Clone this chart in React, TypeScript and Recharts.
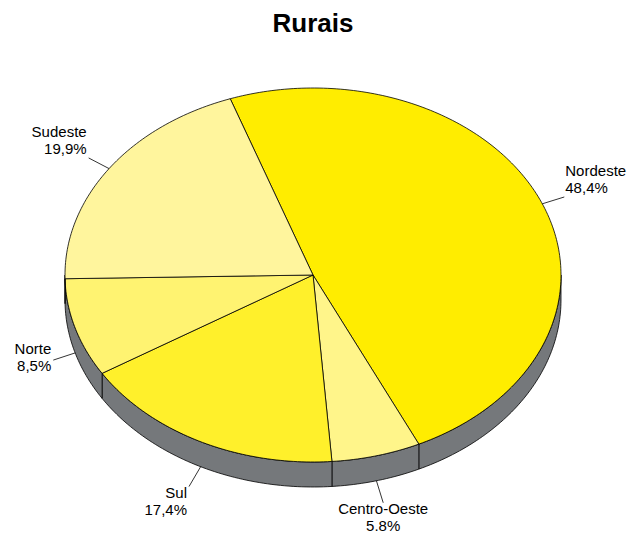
import { PieChart, Pie, Cell } from 'recharts';

const regions = ['Nordeste', 'Centro-Oeste', 'Sul', 'Norte', 'Sudeste'];
const shares = [48.4, 5.8, 17.4, 8.5, 19.9];
const shareLabels = ['48,4%', '5.8%', '17,4%', '8,5%', '19,9%'];
const colors = ['#FFED00', '#FFF58A', '#FFF02B', '#FFF371', '#FFF59D'];

const data = regions.map((name, i) => ({ name, value: shares[i], pct: shareLabels[i] }));

const RY_RATIO = 0.754;
const DEPTH = 25;
const SIDE = '#75787B';
const FONT = '"Liberation Sans", Arial, Helvetica, sans-serif';

const toXY = (cx: number, cy: number, rx: number, ry: number, deg: number) => {
  const r = (deg * Math.PI) / 180;
  return [cx + rx * Math.cos(r), cy - ry * Math.sin(r)];
};

const arcPoints = (cx: number, cy: number, rx: number, ry: number, a: number, b: number, dy = 0) => {
  // a -> b, sampled every degree or so
  const n = Math.max(2, Math.ceil(Math.abs(b - a)));
  const pts: string[] = [];
  for (let i = 0; i <= n; i++) {
    const [x, y] = toXY(cx, cy, rx, ry, a + ((b - a) * i) / n);
    pts.push(`${x.toFixed(2)},${(y + dy).toFixed(2)}`);
  }
  return pts;
};

function Slice3D(props: any) {
  const { cx, cy, outerRadius, startAngle, endAngle, fill } = props;
  const rx = outerRadius;
  const ry = rx * RY_RATIO;
  const lo = Math.min(startAngle, endAngle);
  const hi = Math.max(startAngle, endAngle);

  // side wall: only the front (lower) half of the ellipse is visible
  const sides: string[] = [];
  for (const [s0, s1] of [[-540, -360], [-180, 0], [180, 360]]) {
    const b1 = Math.max(lo, s0);
    const b2 = Math.min(hi, s1);
    if (b2 > b1) {
      const top = arcPoints(cx, cy, rx, ry, b1, b2);
      const bottom = arcPoints(cx, cy, rx, ry, b2, b1, DEPTH);
      sides.push(`M${top.join(' L')} L${bottom.join(' L')} Z`);
    }
  }

  const face = `M${cx},${cy} L${arcPoints(cx, cy, rx, ry, startAngle, endAngle).join(' L')} Z`;

  return (
    <g>
      {sides.map((d, i) => (
        <path key={i} d={d} fill={SIDE} stroke="#000" strokeWidth={0.8} strokeLinejoin="round" />
      ))}
      <path d={face} fill={fill} stroke="#000" strokeWidth={0.8} strokeLinejoin="round" />
    </g>
  );
}

function SliceLabel(props: any) {
  const { cx, cy, outerRadius, midAngle, index } = props;
  const rx = outerRadius;
  const ry = rx * RY_RATIO;
  const r = (midAngle * Math.PI) / 180;
  const cos = Math.cos(r);
  const sin = Math.sin(r);
  let [sx, sy] = toXY(cx, cy, rx, ry, midAngle);
  if (sin < 0) sy += DEPTH;
  const dx = sx - cx;
  const dy = sy - cy;
  const len = Math.sqrt(dx * dx + dy * dy);
  const ex = sx + (dx / len) * 23;
  const ey = sy + (dy / len) * 23;

  let anchor: 'start' | 'middle' | 'end' = 'middle';
  let tx = ex;
  if (cos > 0.35) {
    anchor = 'start';
    tx = ex + 1;
  } else if (cos < -0.35) {
    anchor = 'end';
    tx = ex - 2;
  }
  let b1 = ey - 6;
  if (sin > 0.3) b1 = ey - 21;
  else if (sin < -0.3) b1 = ey + 11;

  return (
    <g>
      <line x1={sx} y1={sy} x2={ex} y2={ey} stroke="#000" strokeWidth={0.8} />
      <text x={tx} y={b1} textAnchor={anchor} fontSize={15} fontFamily={FONT} fill="#000">
        <tspan x={tx} y={b1}>{regions[index]}</tspan>
        <tspan x={tx} y={b1 + 17}>{shareLabels[index]}</tspan>
      </text>
    </g>
  );
}

export default function App() {
  return (
    <div style={{ position: 'absolute', left: 0, top: 0, width: 632, height: 537, background: '#fff' }}>
      <div
        style={{
          position: 'absolute',
          left: 0,
          top: 5,
          width: 626,
          textAlign: 'center',
          fontFamily: FONT,
          fontWeight: 'bold',
          fontSize: 26,
          lineHeight: '36px',
          color: '#000',
        }}
      >
        Rurais
      </div>
      <PieChart width={632} height={537} margin={{ top: 0, right: 0, bottom: 0, left: 0 }}>
        <Pie
          data={data}
          dataKey="value"
          nameKey="name"
          cx={313}
          cy={275}
          outerRadius={248}
          startAngle={109.5}
          endAngle={-250.5}
          shape={Slice3D}
          label={SliceLabel}
          labelLine={false}
          isAnimationActive={false}
        >
          {data.map((d, i) => (
            <Cell key={d.name} fill={colors[i]} />
          ))}
        </Pie>
      </PieChart>
    </div>
  );
}
